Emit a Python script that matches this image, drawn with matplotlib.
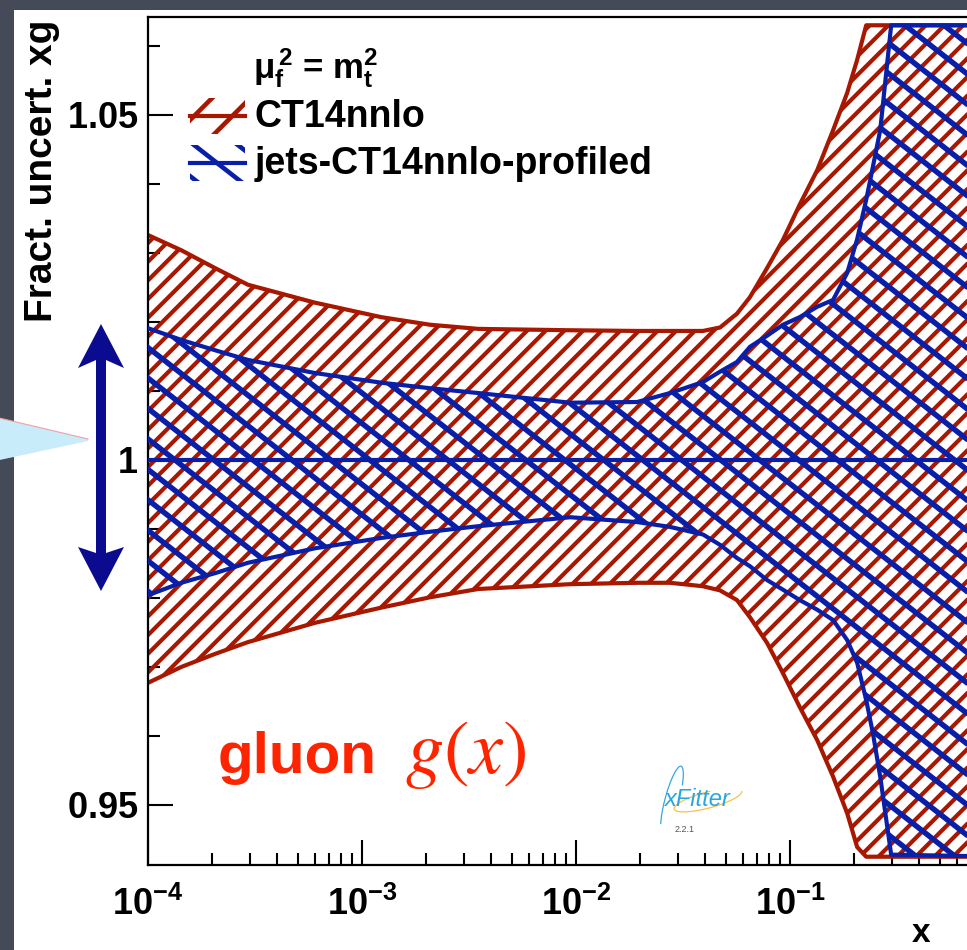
import numpy as np
import matplotlib
matplotlib.use("Agg")
import matplotlib.pyplot as plt
from matplotlib.collections import LineCollection
from matplotlib.patches import Polygon, Rectangle, Arc
from matplotlib.ticker import FixedLocator, MultipleLocator, LogLocator, FuncFormatter, NullFormatter

plt.rcParams['font.family'] = ['Liberation Sans', 'DejaVu Sans']
plt.rcParams['mathtext.fontset'] = 'custom'
plt.rcParams['mathtext.rm'] = 'Liberation Sans:bold'
plt.rcParams['mathtext.it'] = 'Liberation Sans:bold'
plt.rcParams['mathtext.bf'] = 'Liberation Sans:bold'
plt.rcParams['mathtext.default'] = 'rm'

x = np.array([1.0e-4, 1.43e-4, 2.06e-4, 2.93e-4, 6.03e-4, 1.23e-3, 2.08e-3, 3.49e-3, 9.4e-3,
              1.93e-2, 2.75e-2, 3.92e-2, 4.71e-2, 5.65e-2, 6.50e-2, 7.81e-2, 9.27e-2,
              0.111, 0.134, 0.159, 0.185, 0.206, 0.227, 0.244, 0.264, 0.297, 1.0])

# CT14nnlo band (fractional uncertainty of xg)
ct14_up = [1.0326, 1.0304, 1.0278, 1.0254, 1.0228, 1.0207, 1.0196, 1.0190, 1.0188, 1.0187,
           1.0187, 1.0187, 1.0192, 1.0212, 1.0236, 1.0278, 1.0319, 1.0370, 1.0420, 1.0478,
           1.0532, 1.0580, 1.0630, 1.0630, 1.0630, 1.0630, 1.0630]
ct14_dn = [0.9677, 0.9700, 0.9719, 0.9736, 0.9764, 0.9786, 0.9801, 0.9813, 0.9820, 0.9822,
           0.9822, 0.9817, 0.9811, 0.9797, 0.9772, 0.9735, 0.9691, 0.9642, 0.9594, 0.9541,
           0.9488, 0.9439, 0.9425, 0.9425, 0.9425, 0.9425, 0.9425]

# jets-CT14nnlo-profiled band
jets_up = [1.0191, 1.0174, 1.0159, 1.0145, 1.0126, 1.0112, 1.0104, 1.0097, 1.0083, 1.0084,
           1.0097, 1.0113, 1.0128, 1.0142, 1.0164, 1.0180, 1.0196, 1.0207, 1.0222, 1.0232,
           1.0271, 1.0320, 1.0377, 1.0425, 1.0478, 1.0630, 1.0630]
jets_dn = [0.9804, 0.9822, 0.9836, 0.9851, 0.9872, 0.9887, 0.9896, 0.9904, 0.9917, 0.9910,
           0.9903, 0.9892, 0.9877, 0.9858, 0.9846, 0.9826, 0.9812, 0.9797, 0.9783, 0.9768,
           0.9739, 0.9706, 0.9652, 0.9604, 0.9541, 0.9428, 0.9425]

central = 1.0
y_major = [0.95, 1.0, 1.05]
labels = ["CT14nnlo", "jets-CT14nnlo-profiled"]

RED = "#a81800"
BLUE = "#0a1fa8"
W, H = 967, 950

fig = plt.figure(figsize=(W / 100, H / 100), dpi=100, facecolor="#444a57")
fig.add_artist(Rectangle((14 / W, 0), 1, 1 - 10 / H, transform=fig.transFigure,
                         facecolor="white", edgecolor="none", zorder=-5))

# main axes: right edge (x=1) lies outside the picture like in the slide
ax = fig.add_axes([148 / W, (H - 865) / H, (1004 - 148) / W, (865 - 17) / H], zorder=1)
# overlay in pixel units for annotations
pix = fig.add_axes([0, 0, 1, 1], zorder=5)
pix.set_xlim(0, W)
pix.set_ylim(H, 0)
pix.axis("off")
pix.patch.set_alpha(0)


def hatch_lines(angle, step, phase=0.0):
    th = np.deg2rad(angle)
    d = np.array([np.cos(th), np.sin(th)])
    n = np.array([-d[1], d[0]])
    segs = []
    for s in np.arange(-1600, 1600, step):
        c = np.array([480.0, 475.0]) + (s + phase) * n
        segs.append([c - 1600 * d, c + 1600 * d])
    return segs


def band(lo, hi, color, angle, step, hlw, z):
    poly = ax.fill_between(x, lo, hi, facecolor="none", edgecolor="none", zorder=z)
    lc = LineCollection(hatch_lines(angle, step), colors=color, linewidths=hlw,
                        transform=pix.transData, zorder=z)
    ax.add_collection(lc, autolim=False)
    lc.set_clip_path(poly.get_paths()[0], ax.transData)
    ax.plot(x, hi, color=color, lw=3.0, zorder=z + 0.5, solid_joinstyle="round")
    ax.plot(x, lo, color=color, lw=3.0, zorder=z + 0.5, solid_joinstyle="round")


band(ct14_dn, ct14_up, RED, -45, 13.2, 3.0, 2)
band(jets_dn, jets_up, BLUE, 38, 24, 3.9, 3)
ax.axhline(central, color=BLUE, lw=3.0, zorder=4)

ax.set_xscale("log")
ax.set_xlim(1e-4, 1)
ax.set_ylim(0.9413, 1.0642)
ax.yaxis.set_major_locator(FixedLocator(y_major))
ax.yaxis.set_minor_locator(MultipleLocator(0.01))
ax.yaxis.set_major_formatter(FuncFormatter(lambda v, _: r"$%g$" % v))
ax.xaxis.set_major_locator(LogLocator(base=10))
ax.xaxis.set_minor_locator(LogLocator(base=10, subs=np.arange(2, 10)))
ax.xaxis.set_major_formatter(FuncFormatter(
    lambda v, _: r"$10^{%d}$" % round(np.log10(v)) if v < 0.5 else ""))
ax.xaxis.set_minor_formatter(NullFormatter())
ax.tick_params(which="both", direction="in", width=1.5, top=False, right=False, colors="black")
ax.tick_params(which="major", length=18)
ax.tick_params(which="minor", length=8.5)
ax.tick_params(axis="y", which="major", labelsize=26, pad=7)
ax.tick_params(axis="x", which="major", labelsize=26, pad=16)
for sp in ax.spines.values():
    sp.set_linewidth(1.6)

# axis titles
fig.text(42 / W, 1 - 20 / H, "Fract. uncert. xg", rotation=90, ha="center", va="top",
         fontsize=28, fontweight="bold")
pix.text(921, 934, "x", ha="center", va="center", fontsize=24, fontweight="bold")

# legend
pix.text(253, 78, r"$\mu_{f}^{\,2}$ = m$_{t}^{2}$", ha="left", va="baseline", fontsize=25,
         fontweight="bold")
for i, (lab, col, ang, ph) in enumerate([(labels[0], RED, -45, 10), (labels[1], BLUE, 38, 4)]):
    yc = 116 + 47 * i
    box = Rectangle((190, yc - 18), 55, 36, transform=pix.transData)
    lc = LineCollection(hatch_lines(ang, 27, phase=ph), colors=col, linewidths=3.3,
                        transform=pix.transData)
    pix.add_collection(lc, autolim=False)
    lc.set_clip_path(box)
    pix.plot([190, 245], [yc, yc], color=col, lw=3.0)
    pix.text(255, yc + 11, lab, ha="left", va="baseline", fontsize=27, fontweight="bold")

# gluon label
pix.text(218, 773, "gluon", ha="left", va="baseline", fontsize=42, fontweight="bold",
         color="#ff2400")
pix.text(405, 773, r"$\mathit{g}\mathrm{(}\mathit{x}\mathrm{)}$", ha="left", va="baseline",
         fontsize=55, color="#ff2400", math_fontfamily="stix")

# xFitter logo
pix.add_patch(Arc((708, 800), 70, 16, angle=-15, theta1=0, theta2=300, color="#f6c34a", lw=0.9))
pix.add_patch(Arc((672, 800), 14, 70, angle=15, theta1=100, theta2=290, color="#35a8de", lw=0.9))
pix.text(698, 800, "xFitter", ha="center", va="center", fontsize=17,
         style="italic", color="#2aa6dc")
pix.text(685, 829, "2.2.1", ha="center", va="center", fontsize=6.5, color="#555555")

# callout pointer and double arrow
pix.add_patch(Polygon([[-5, 417], [88, 439], [88, 441], [-5, 461]], closed=True,
                      facecolor="#c8ecfa", edgecolor="none"))
pix.plot([-5, 88], [417, 439], color="#f2a0a0", lw=0.8)
pix.add_patch(Polygon([[101, 324], [124, 368], [106, 360], [106, 553], [124, 547],
                       [101, 591], [78, 547], [96, 553], [96, 360], [78, 368]],
                      closed=True, facecolor="#0b0b8f", edgecolor="none"))

fig.savefig("out.png", dpi=100, facecolor=fig.get_facecolor())
